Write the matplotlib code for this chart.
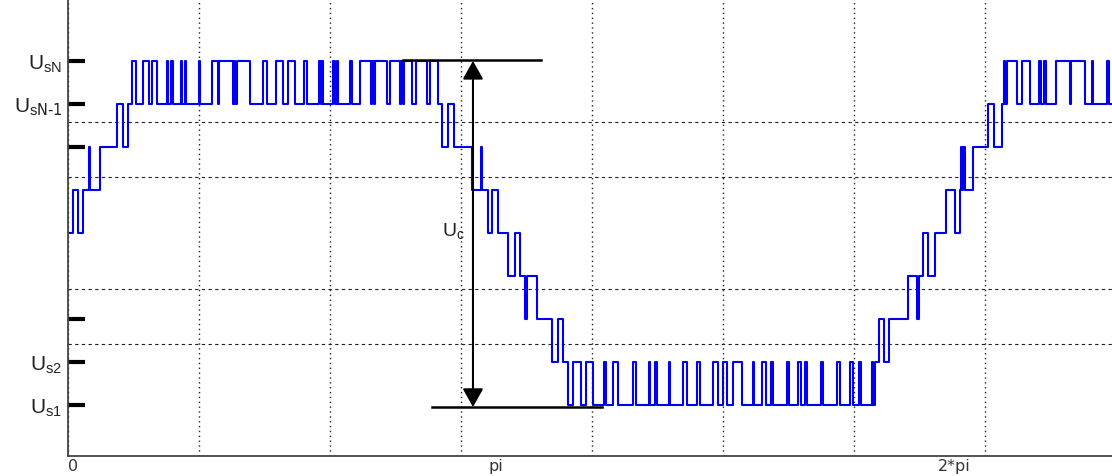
import numpy as np
import matplotlib.pyplot as plt

plt.rcParams['font.family'] = ['Liberation Sans', 'DejaVu Sans']
plt.rcParams['mathtext.default'] = 'regular'

# Multilevel staircase PWM, levels 1..9 (U_s1 .. U_sN), switching angles in degrees
rise1_deg = [0.7, 2.15, 4.72, 7.01, 9.48, 10.08, 14.66, 22.31, 25.05, 27.62]
rise1_lvl = [5, 6, 5, 6, 7, 6, 7, 8, 7, 8]

# top plateau: switching between U_sN-1 (8) and U_sN (9), first edge goes up
top1_edges = [29.18, 31.01, 34.49, 37.24, 38.34, 40.90, 45.21, 45.80, 47.36, 47.95,
              51.76, 52.35, 53.45, 54.05, 60.00, 60.60, 65.82, 68.70, 69.30, 75.44,
              76.03, 76.68, 77.27, 83.36, 89.18, 91.01, 95.27, 98.34, 100.90, 103.97,
              108.09, 109.33, 115.10, 115.70, 116.34, 116.93, 121.60, 122.20, 123.20,
              123.80, 129.39, 129.99, 133.74, 138.64, 139.24, 140.01, 140.61, 145.97,
              147.48, 152.06, 152.66, 153.44, 154.03, 157.42, 159.39, 164.29, 165.80]

fall_deg = [169.60, 171.53, 174.18, 176.80, 184.90, 189.02, 189.62, 192.51, 194.06, 197.09,
            201.67, 204.74, 207.03, 209.45, 210.05, 214.67, 221.54, 224.57, 226.86, 229.15]
fall_lvl = [8, 7, 8, 7, 6, 7, 6, 5, 6, 5, 4, 5, 4, 3, 4, 3, 2, 3, 2, 1]

# bottom plateau: bumps from U_s1 up to U_s2 (start, end)
bottom_bumps = [(231.44, 234.83), (237.25, 240.60), (245.73, 246.33), (249.76, 252.05),
                (259.01, 260.16), (266.11, 266.71), (269.08, 269.68), (275.37, 275.97),
                (281.82, 283.65), (287.96, 289.47), (295.60, 297.89), (300.16, 301.72),
                (304.72, 308.57), (313.61, 314.20), (317.96, 319.56), (322.22, 322.81),
                (329.54, 330.14), (334.58, 335.86), (337.70, 338.30), (345.02, 345.61),
                (352.08, 353.82), (358.17, 359.68), (362.41, 363.01), (368.15, 368.75)]

rise2_deg = [369.61, 371.59, 373.74, 376.17, 384.87, 389.09, 389.68, 391.75, 394.04, 397.10,
             402.14, 406.26, 408.55, 408.92, 409.52, 410.16, 410.75, 414.65, 421.52, 424.13,
             427.65, 428.71]
rise2_lvl = [2, 3, 2, 3, 4, 3, 4, 5, 4, 5, 6, 5, 6, 7, 6, 7, 6, 7, 8, 7, 8, 9]

# second top plateau, first edge goes down
top2_edges = [429.39, 429.99, 434.52, 436.81, 440.61, 444.97, 445.56, 447.26, 447.85,
              452.52, 458.84, 459.44, 465.81, 469.01, 469.61, 476.11, 476.71]
end_deg = 480

level_ticks = [1, 2, 3, 7, 8, 9]
level_labels = ['$U_{s1}$', '$U_{s2}$', '', '', r'$U_{s\text{N-1}}$', '$U_{sN}$']
grid_y = [2.42, 3.70, 6.30, 7.58]

# U_c dimension marker
uc_deg = 185.5
uc_top_span = (153.4, 216.6)
uc_bottom_span = (166.7, 244.6)

# build the step signal
xs, ys = [], []
xs += rise1_deg; ys += rise1_lvl
xs += top1_edges; ys += [9 if i % 2 == 0 else 8 for i in range(len(top1_edges))]
xs += fall_deg; ys += fall_lvl
for a, b in bottom_bumps:
    xs += [a, b]; ys += [2, 1]
xs += rise2_deg; ys += rise2_lvl
xs += top2_edges; ys += [8 if i % 2 == 0 else 9 for i in range(len(top2_edges))]
xs.append(end_deg); ys.append(ys[-1])

fig = plt.figure(figsize=(11.12, 4.77), dpi=100)
ax = fig.add_axes([68 / 1112, 20 / 477, 1 - 68 / 1112, 457 / 477])

ax.step(np.radians(xs), ys, where='post', color='#0000ee', lw=1.5, zorder=3)

ax.set_xlim(0, np.radians(478.2))
ax.set_ylim(-0.19, 10.44)

for s in ['top', 'right']:
    ax.spines[s].set_visible(False)
for s in ['left', 'bottom']:
    ax.spines[s].set_color('#444444')
    ax.spines[s].set_linewidth(1.3)

ax.set_xticks(np.radians(np.arange(0, 480, 60)))
ax.set_xticklabels([])
ax.tick_params(axis='x', length=0)
ax.set_yticks(grid_y)
ax.set_yticklabels([])
ax.tick_params(axis='y', which='major', length=0)
ax.set_yticks(level_ticks, minor=True)
ax.set_yticklabels(level_labels, minor=True, fontsize=15, color='#222222')
ax.tick_params(axis='y', which='minor', direction='in', length=12, width=3,
               color='black', pad=4)

ax.grid(True, axis='x', which='major', linestyle=(0, (1, 2.5)), color='#222222', lw=1)
ax.grid(True, axis='y', which='major', linestyle=(0, (3, 3)), color='#222222', lw=0.8)

# x labels (placed as in the original)
for deg, lab in [(2.3, '0'), (196, 'pi'), (406, '2*pi')]:
    ax.text(np.radians(deg), -0.005, lab, transform=ax.get_xaxis_transform(),
            ha='center', va='top', fontsize=11.5, color='#333333', family='DejaVu Sans')

# U_c marker
ax.plot(np.radians(uc_top_span), [9.02, 9.02], color='black', lw=1.8, zorder=4)
ax.plot(np.radians(uc_bottom_span), [0.95, 0.95], color='black', lw=1.8, zorder=4)
ax.annotate('', xy=(np.radians(uc_deg), 9.0), xytext=(np.radians(uc_deg), 0.95),
            arrowprops=dict(arrowstyle='<|-|>,head_length=0.8,head_width=0.45',
                            color='black', lw=1.5, mutation_scale=14,
                            shrinkA=0, shrinkB=0), zorder=4)
ax.text(np.radians(171.3), 5.07, '$U_c$', fontsize=14, color='#222222',
        ha='left', va='center')

fig.savefig('out.png', dpi=100)
